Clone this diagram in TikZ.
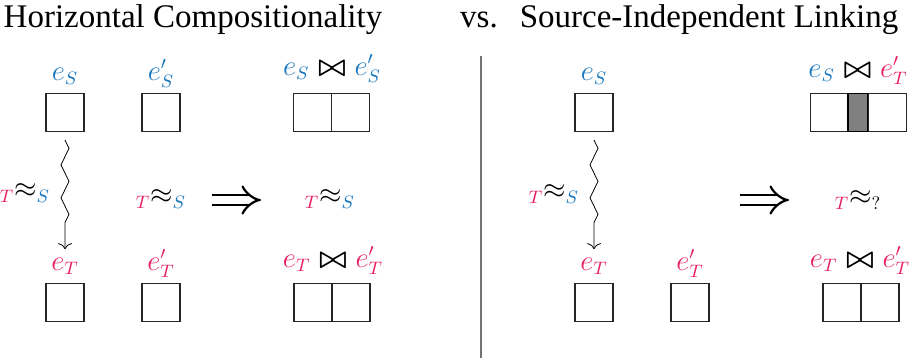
\documentclass[tikz,border=0pt]{standalone}
\usepackage{amsmath}
\usepackage{fontspec}
\setmainfont{Liberation Serif}
\usetikzlibrary{decorations.pathmorphing, arrows.meta}

\definecolor{srcblue}{RGB}{22,118,190}
\definecolor{tgtpink}{RGB}{232,28,100}

% shorthands for the labels
\newcommand{\src}[1]{\textcolor{srcblue}{#1}}
\newcommand{\tgt}[1]{\textcolor{tgtpink}{#1}}
\newcommand{\bjoin}{\mathbin{\mkern1.5mu\boldsymbol{\bowtie}\mkern1.5mu}}
\newcommand{\rel}[2]{{}_{#1}{\approx}_{#2}}

\tikzset{
  title/.style={font=\fontsize{16.5}{20}\selectfont, anchor=base},
  lbl/.style={font=\fontsize{13.5}{16}\selectfont, anchor=base, inner sep=0pt},
  relbl/.style={font=\fontsize{13.5}{16}\selectfont, inner sep=0pt},
  cell/.style={draw=black!85, line width=0.6pt, minimum size=19pt, inner sep=0pt},
  glue/.style={cell, fill=black!50, minimum width=10pt, line width=0.9pt, draw=black},
  squig/.style={-{To[length=3pt, width=7pt]}, thin, decorate,
    decoration={zigzag, segment length=16.5pt, amplitude=2pt, post length=7pt}},
  imp/.style={double, double distance=4pt, line width=1.1pt, -{Implies[scale=1.15]}},
}

\begin{document}
\begin{tikzpicture}[x=0.5pt, y=-0.5pt]

\useasboundingbox (0,0) rectangle (910,361);

% --- Titles ---
\node[title] (t1) at (193,27) {Horizontal Compositionality};
\node[title] (tvs) at (479,27) {vs.};
\node[title] (t2) at (709,27) {Source-Independent Linking};

% --- Separator ---
\coordinate (sepTop) at (481,56);
\coordinate (sepBot) at (481,358);
\draw[black!55, line width=0.7pt] (sepTop) -- (sepBot);

% ============ LEFT: horizontal compositionality ============

% top row (source)
\node[lbl] (lS)  at (65,80)  {$\src{e_S}$};
\node[cell] (bS) at (65,112.5) {};
\node[lbl] (lSp) at (161,80) {$\src{e'_S}$};
\node[cell] (bSp) at (161,112.5) {};
\node[lbl] (lSS) at (332,75) {$\src{e_S}\bjoin\src{e'_S}$};
\node[cell] (bSSa) at (312.5,112.5) {};
\node[cell] (bSSb) at (350.5,112.5) {};

% bottom row (target)
\node[lbl] (lT)  at (65,270)  {$\tgt{e_T}$};
\node[cell] (bT) at (65,302.5) {};
\node[lbl] (lTp) at (161,270) {$\tgt{e'_T}$};
\node[cell] (bTp) at (161,302.5) {};
\node[lbl] (lTT) at (333,267) {$\tgt{e_T}\bjoin\tgt{e'_T}$};
\node[cell] (bTTa) at (313,302.5) {};
\node[cell] (bTTb) at (351,302.5) {};

% relations
\draw[squig] ([yshift=-4pt]bS.south) -- ([yshift=4pt]lT.north);
\node[relbl] (rA) at (25,193) {$\rel{\tgt{T}}{\src{S}}$};
\node[relbl] (rB) at (161,199) {$\rel{\tgt{T}}{\src{S}}$};
\node[relbl] (rC) at (330,199) {$\rel{\tgt{T}}{\src{S}}$};

\coordinate (impAs) at (212,200);
\coordinate (impAe) at (261,200);
\draw[imp] (impAs) -- (impAe);

% ============ RIGHT: source-independent linking ============

\node[lbl] (rlS)  at (594,80)  {$\src{e_S}$};
\node[cell] (rbS) at (594,112.5) {};

\node[lbl] (rlST) at (858,77) {$\src{e_S}\bjoin\tgt{e'_T}$};
\node[cell] (rbSTa) at (829.5,112.5) {};
\node[glue] (rbSTg) at (858,112.5) {};
\node[cell] (rbSTb) at (887.5,112.5) {};

\node[lbl] (rlT)  at (594,270) {$\tgt{e_T}$};
\node[cell] (rbT) at (594,302.5) {};
\node[lbl] (rlTp) at (690,270) {$\tgt{e'_T}$};
\node[cell] (rbTp) at (690,302.5) {};
\node[lbl] (rlTT) at (860,267) {$\tgt{e_T}\bjoin\tgt{e'_T}$};
\node[cell] (rbTTa) at (842,302.5) {};
\node[cell] (rbTTb) at (880,302.5) {};

\draw[squig] ([yshift=-4pt]rbS.south) -- ([yshift=4pt]rlT.north);
\node[relbl] (rD) at (554,194) {$\rel{\tgt{T}}{\src{S}}$};
\node[relbl] (rE) at (858,200) {$\rel{\tgt{T}}{?}$};

\coordinate (impBs) at (740,200);
\coordinate (impBe) at (789,200);
\draw[imp] (impBs) -- (impBe);

\end{tikzpicture}
\end{document}
